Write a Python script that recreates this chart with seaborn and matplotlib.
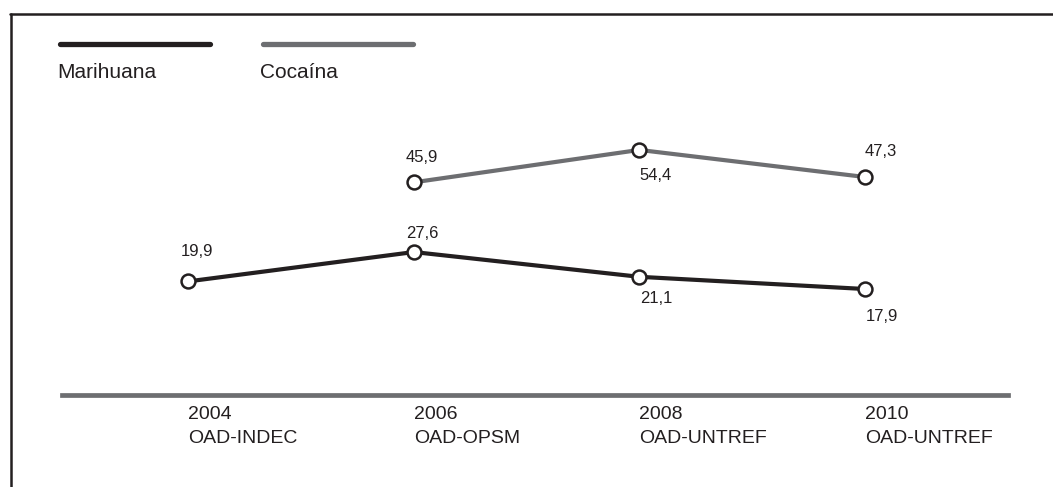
import numpy as np
import pandas as pd
import matplotlib
matplotlib.use("Agg")
import matplotlib.pyplot as plt
from matplotlib.lines import Line2D
import seaborn as sns

# Data
years = [2004, 2006, 2008, 2010]
sources = ["OAD-INDEC", "OAD-OPSM", "OAD-UNTREF", "OAD-UNTREF"]
marihuana = [19.9, 27.6, 21.1, 17.9]
cocaina = [np.nan, 45.9, 54.4, 47.3]
series_names = ["Marihuana", "Cocaína"]

# Label offsets (pixels) relative to each point
mar_offsets = [(-8, 30), (-8, 19), (1, -22), (1, -27)]
coc_offsets = [(None, None), (-8, 25), (0, -26), (0, 25)]

DARK = "#231f20"
GREY = "#6d6e71"

sns.set_theme(style="white")
plt.rcParams["font.family"] = ["Liberation Sans", "DejaVu Sans"]

W, H = 1053, 487
fig = plt.figure(figsize=(W / 100, H / 100), dpi=100)
fig.patch.set_facecolor("white")

# axes spans from the left end of the baseline to its right end
ax = fig.add_axes([62 / W, (H - 395) / H, (1008 - 62) / W, 395 / H])
ax.set_facecolor("none")

df = pd.DataFrame({
    "year": years * 2,
    "value": marihuana + cocaina,
    "serie": [series_names[0]] * 4 + [series_names[1]] * 4,
})

for name, color in zip(series_names, [DARK, GREY]):
    sub = df[df["serie"] == name].dropna()
    sns.lineplot(data=sub, x="year", y="value", ax=ax, color=color,
                 linewidth=3.0, marker="o", markersize=10,
                 markerfacecolor="white", markeredgecolor=DARK,
                 markeredgewidth=1.8, legend=False)

ax.set_xlim(2002.88, 2011.27)
ax.set_ylim(-9.92, 93.75)

# value labels
for vals, offs in [(marihuana, mar_offsets), (cocaina, coc_offsets)]:
    for yr, v, (dx, dy) in zip(years, vals, offs):
        if np.isnan(v):
            continue
        ax.annotate(f"{v:.1f}".replace(".", ","), (yr, v),
                    xytext=(dx, dy), textcoords="offset pixels",
                    ha="left", va="center", fontsize=12, color=DARK)

# axes styling: only the bottom spine as grey baseline
for s in ["top", "left", "right"]:
    ax.spines[s].set_visible(False)
ax.spines["bottom"].set_color(GREY)
ax.spines["bottom"].set_linewidth(3.4)
ax.set_yticks([])
ax.set_xticks(years)
ax.set_xticklabels([f"{y}\n{s}" for y, s in zip(years, sources)],
                   ha="left", fontsize=14, color=DARK, linespacing=1.5)
ax.tick_params(axis="x", length=0, pad=8)
ax.set_xlabel("")
ax.set_ylabel("")

# frame lines (top and left)
fig.add_artist(Line2D([10 / W, 1], [1 - 13.8 / H] * 2, transform=fig.transFigure,
                      color=DARK, linewidth=1.8))
fig.add_artist(Line2D([10.5 / W] * 2, [0, 1 - 13.8 / H], transform=fig.transFigure,
                      color=DARK, linewidth=1.8))

# legend
for (x0, x1), color, name in zip([(60, 210), (263, 413)], [DARK, GREY], series_names):
    fig.add_artist(Line2D([x0 / W, x1 / W], [1 - 44 / H] * 2, transform=fig.transFigure,
                          color=color, linewidth=3.8, solid_capstyle="round"))
    fig.text((x0 - 3) / W, 1 - 72 / H, name, ha="left", va="center",
             fontsize=15, color=DARK)

fig.savefig("out.png", dpi=100, facecolor="white")
